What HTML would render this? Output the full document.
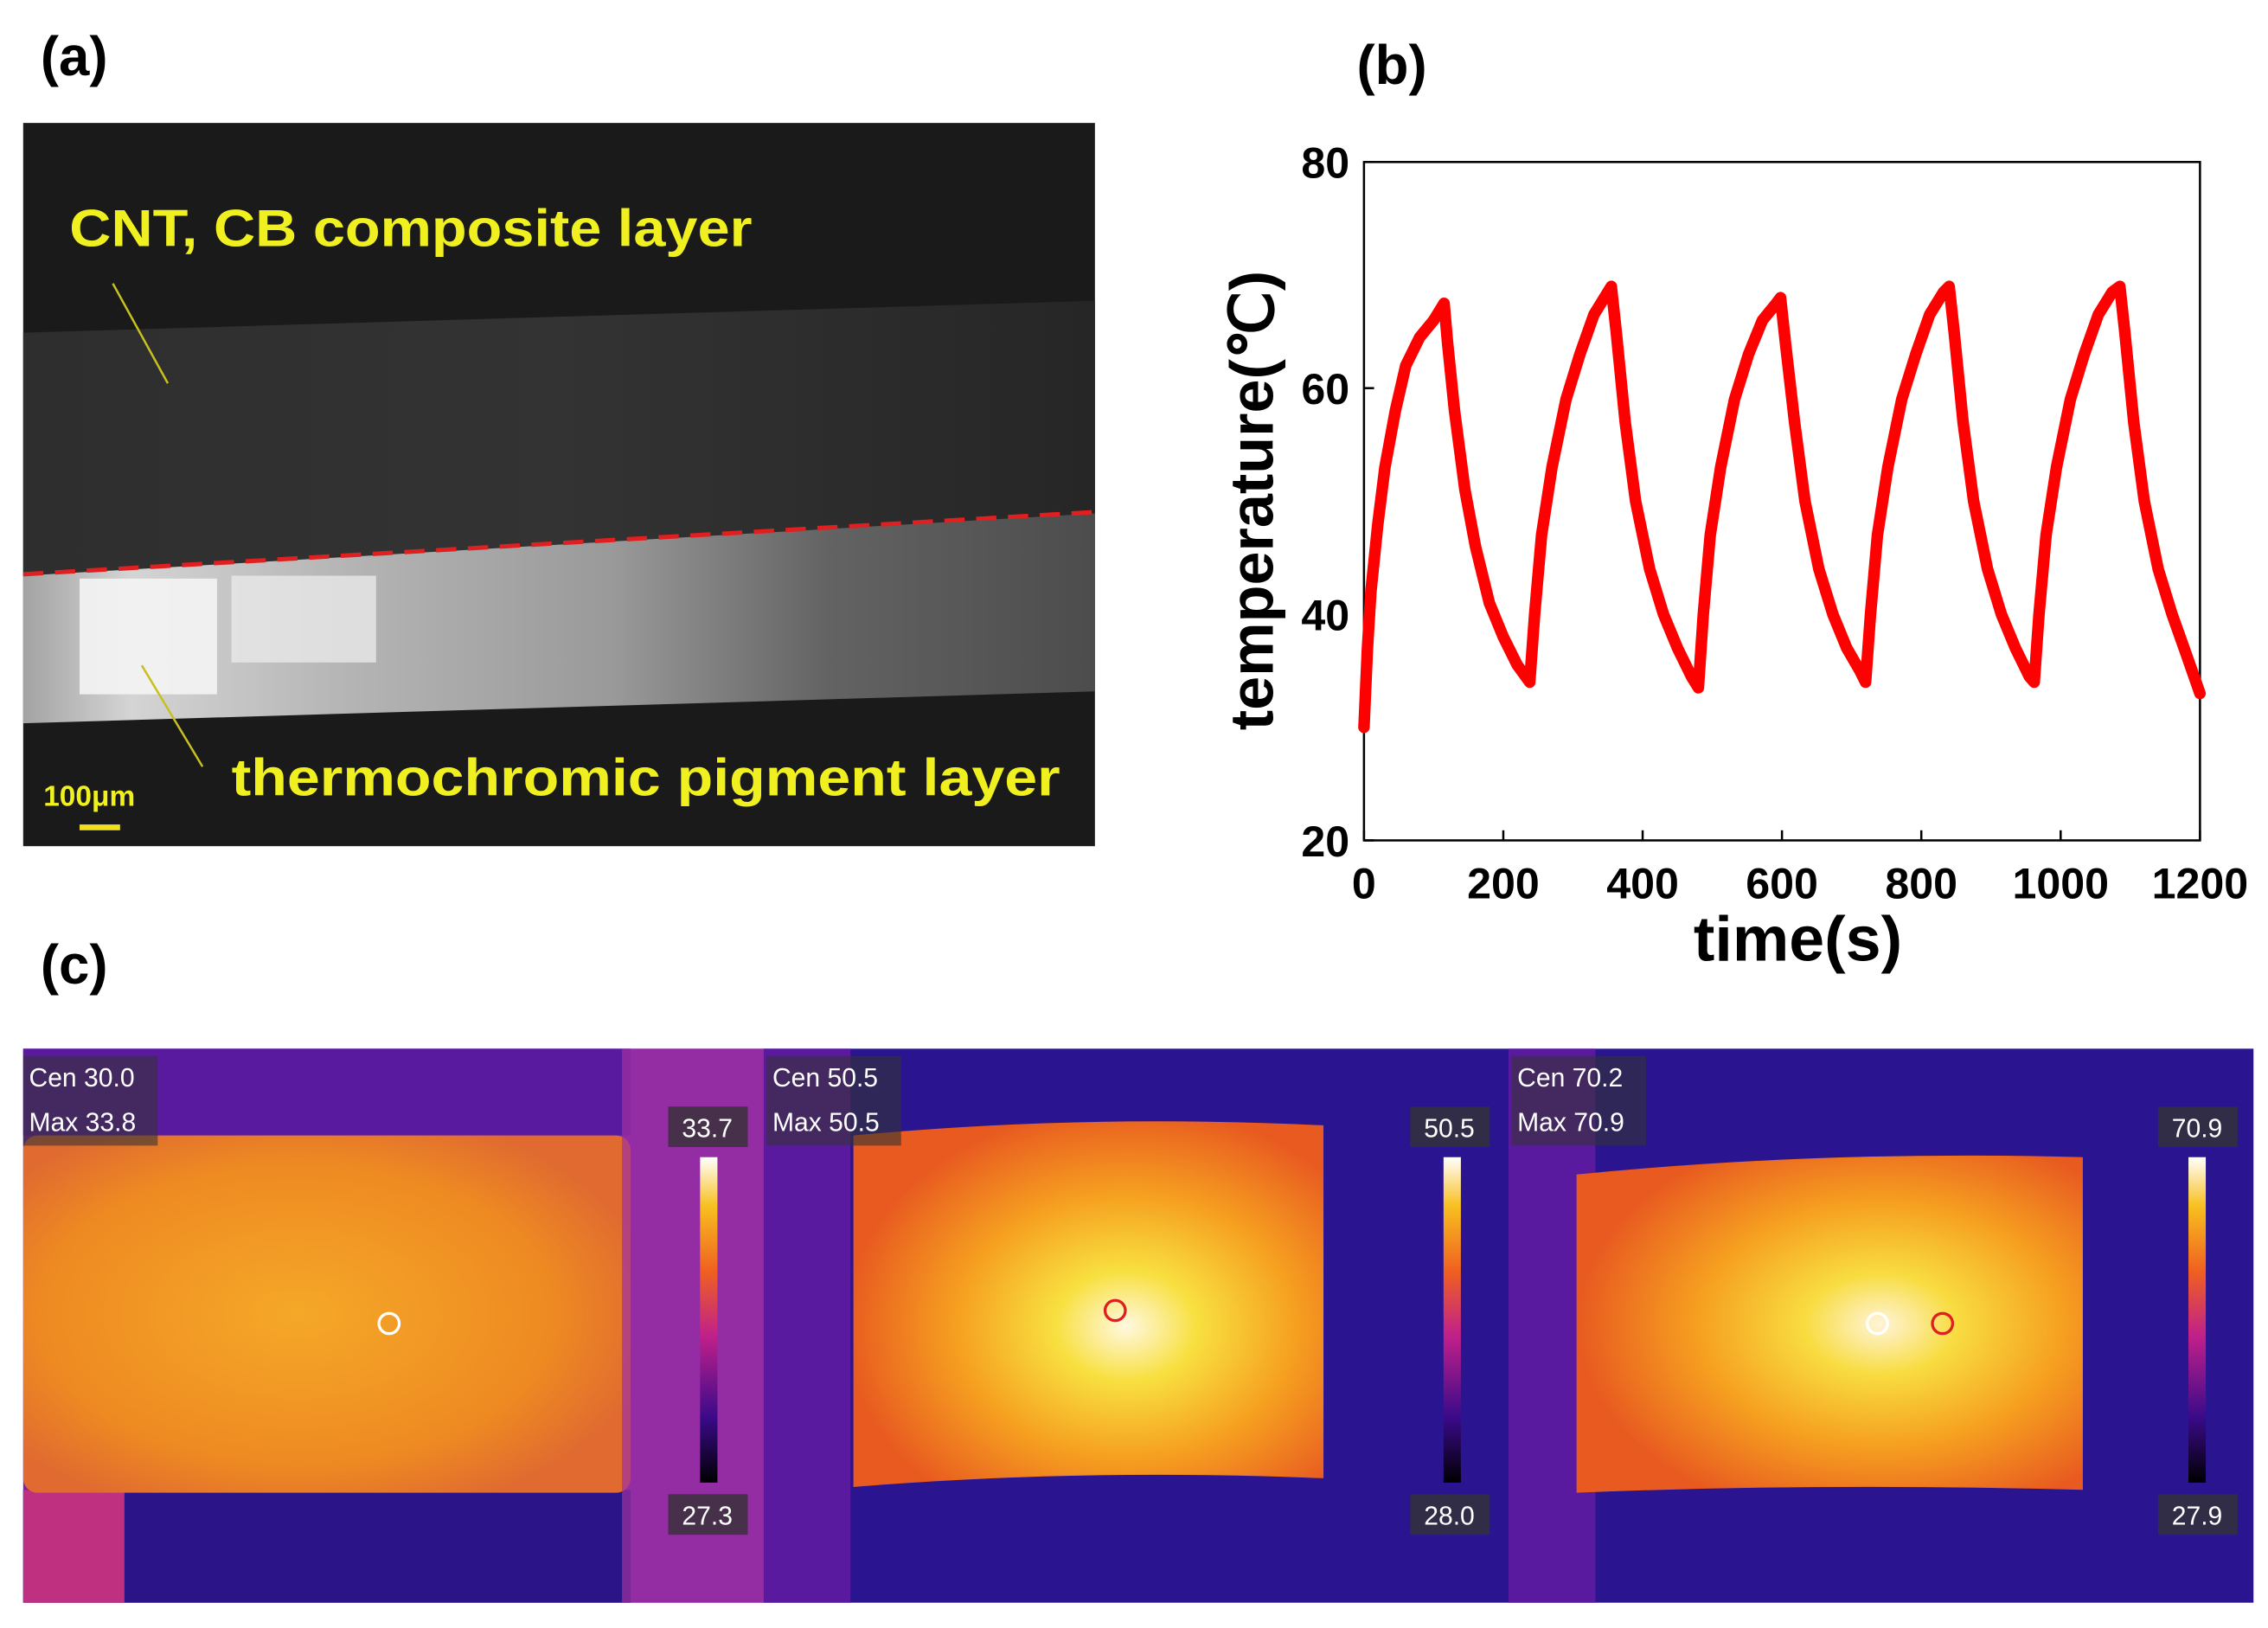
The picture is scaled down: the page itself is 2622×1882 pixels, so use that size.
<!DOCTYPE html>
<html><head><meta charset="utf-8"><style>
html,body{margin:0;padding:0;background:#fff}
svg{display:block}
text{font-family:"Liberation Sans",sans-serif}
</style></head><body>
<svg id="fig" width="2622" height="1882" viewBox="0 0 1568 1125.5" xmlns="http://www.w3.org/2000/svg">
<defs>
<linearGradient id="semBand" x1="0" y1="0" x2="1" y2="0">
<stop offset="0" stop-color="#2e2e2e"/><stop offset="0.5" stop-color="#333"/><stop offset="1" stop-color="#262626"/></linearGradient>
<linearGradient id="bright" x1="0" y1="0" x2="1" y2="0">
<stop offset="0" stop-color="#bbb"/><stop offset="0.1" stop-color="#f5f5f5"/><stop offset="0.3" stop-color="#d0d0d0"/><stop offset="0.55" stop-color="#b0b0b0"/><stop offset="0.75" stop-color="#707070"/><stop offset="1" stop-color="#555"/></linearGradient>
<linearGradient id="cbar" x1="0" y1="1" x2="0" y2="0">
<stop offset="0" stop-color="#000"/><stop offset="0.2" stop-color="#3a0a8a"/><stop offset="0.45" stop-color="#c0208a"/><stop offset="0.65" stop-color="#f06020"/><stop offset="0.85" stop-color="#f8c020"/><stop offset="1" stop-color="#fff"/></linearGradient>
<radialGradient id="hot1" cx="0.45" cy="0.5" r="0.6">
<stop offset="0" stop-color="#f5a828"/><stop offset="0.7" stop-color="#ee8a22"/><stop offset="1" stop-color="#e06a30"/></radialGradient>
<radialGradient id="hot2" cx="0.58" cy="0.56" r="0.6">
<stop offset="0" stop-color="#fff8e0"/><stop offset="0.25" stop-color="#f8e040"/><stop offset="0.6" stop-color="#f6a020"/><stop offset="1" stop-color="#e85a20"/></radialGradient>
<radialGradient id="hot3" cx="0.6" cy="0.5" r="0.6">
<stop offset="0" stop-color="#fff4d8"/><stop offset="0.25" stop-color="#f8dc40"/><stop offset="0.6" stop-color="#f6a020"/><stop offset="1" stop-color="#e85a20"/></radialGradient>
</defs>

<!-- (a) -->
<text x="28" y="52" font-size="38" font-weight="bold">(a)</text>
<g>
<rect x="16" y="85" width="741" height="500" fill="#1a1a1a"/>
<polygon points="16,230 757,208 757,355 16,398" fill="url(#semBand)"/>
<polygon points="16,398 757,355 757,478 16,500" fill="url(#bright)" opacity="0.85"/>
<rect x="55" y="400" width="95" height="80" fill="#f4f4f4" opacity="0.9"/>
<rect x="160" y="398" width="100" height="60" fill="#e8e8e8" opacity="0.8"/>
<line x1="16" y1="397" x2="757" y2="354" stroke="#e02020" stroke-width="3" stroke-dasharray="14,8"/>
<line x1="78" y1="196" x2="116" y2="265" stroke="#c8c020" stroke-width="1.5"/>
<line x1="98" y1="460" x2="140" y2="530" stroke="#c8c020" stroke-width="1.5"/>
<rect x="55" y="570" width="28" height="4" fill="#f0e020"/>
</g>
<text x="48" y="170" font-size="36" font-weight="bold" fill="#f0f020" textLength="472" lengthAdjust="spacingAndGlyphs">CNT, CB composite layer</text>
<text x="160" y="550" font-size="36" font-weight="bold" fill="#f0f020" textLength="573" lengthAdjust="spacingAndGlyphs">thermochromic pigment layer</text>
<text x="30" y="557" font-size="20" font-weight="bold" fill="#f0f020">100μm</text>

<!-- (b) -->
<text x="938" y="58" font-size="38" font-weight="bold">(b)</text>
<g id="chart"></g>

<!-- (c) -->
<text x="28" y="680" font-size="38" font-weight="bold">(c)</text>
<g>
<rect x="16" y="725" width="512" height="383" fill="#7a22b0"/>
<rect x="16" y="725" width="420" height="60" fill="#5a1aa0"/>
<rect x="16" y="1030" width="420" height="78" fill="#2a1488"/>
<rect x="16" y="1030" width="70" height="78" fill="#c03080"/>
<rect x="16" y="785" width="420" height="247" rx="10" fill="url(#hot1)"/>
<rect x="430" y="725" width="98" height="383" fill="#a030a0" opacity="0.7"/>
<rect x="484" y="800" width="12" height="225" fill="url(#cbar)"/>
<rect x="462" y="765" width="55" height="28" fill="#333" opacity="0.8"/><text x="489" y="786" font-size="18" fill="#fff" text-anchor="middle">33.7</text>
<rect x="462" y="1033" width="55" height="28" fill="#333" opacity="0.8"/><text x="489" y="1054" font-size="18" fill="#fff" text-anchor="middle">27.3</text>
<rect x="16" y="730" width="93" height="62" fill="#333" opacity="0.6"/>
<text x="20" y="751" font-size="18" fill="#fff">Cen  30.0</text><text x="20" y="782" font-size="18" fill="#fff">Max  33.8</text>
<circle cx="269" cy="915" r="7" fill="none" stroke="#fff" stroke-width="2"/>
</g>
<g>
<rect x="528" y="725" width="515" height="383" fill="#2a1490"/>
<rect x="528" y="725" width="60" height="383" fill="#5a1aa0"/>
<path d="M590,785 Q750,770 915,778 L915,1022 Q750,1015 590,1028 Z" fill="url(#hot2)"/>
<rect x="998" y="800" width="12" height="225" fill="url(#cbar)"/>
<rect x="975" y="765" width="55" height="28" fill="#333" opacity="0.8"/><text x="1002" y="786" font-size="18" fill="#fff" text-anchor="middle">50.5</text>
<rect x="975" y="1033" width="55" height="28" fill="#333" opacity="0.8"/><text x="1002" y="1054" font-size="18" fill="#fff" text-anchor="middle">28.0</text>
<rect x="530" y="730" width="93" height="62" fill="#333" opacity="0.6"/>
<text x="534" y="751" font-size="18" fill="#fff">Cen  50.5</text><text x="534" y="782" font-size="18" fill="#fff">Max  50.5</text>
<circle cx="771" cy="906" r="7" fill="none" stroke="#e02020" stroke-width="2"/>
</g>
<g>
<rect x="1043" y="725" width="515" height="383" fill="#2a1490"/>
<rect x="1043" y="725" width="60" height="383" fill="#5a1aa0"/>
<path d="M1090,812 Q1260,795 1440,800 L1440,1030 Q1260,1025 1090,1032 Z" fill="url(#hot3)"/>
<rect x="1513" y="800" width="12" height="225" fill="url(#cbar)"/>
<rect x="1492" y="765" width="55" height="28" fill="#333" opacity="0.8"/><text x="1519" y="786" font-size="18" fill="#fff" text-anchor="middle">70.9</text>
<rect x="1492" y="1033" width="55" height="28" fill="#333" opacity="0.8"/><text x="1519" y="1054" font-size="18" fill="#fff" text-anchor="middle">27.9</text>
<rect x="1045" y="730" width="93" height="62" fill="#333" opacity="0.6"/>
<text x="1049" y="751" font-size="18" fill="#fff">Cen  70.2</text><text x="1049" y="782" font-size="18" fill="#fff">Max  70.9</text>
<circle cx="1298" cy="915" r="7" fill="none" stroke="#fff" stroke-width="2"/>
<circle cx="1343" cy="915" r="7" fill="none" stroke="#e02020" stroke-width="2"/>
</g>
</svg>
<script>
const times = [0,5,10,20,30,45,60,80,100,115,120,130,145,160,180,200,220,238,
245,255,270,290,310,330,350,355,362,375,390,410,430,450,470,480,
487,497,512,532,552,572,592,598,605,618,633,653,673,693,712,720,
727,737,752,772,792,812,832,840,847,860,875,895,915,935,955,962,
969,979,994,1014,1034,1054,1074,1085,1092,1105,1120,1140,1160,1180,1200];
const temps = [30,37,42,48,53,58,62,64.5,66,67.5,64,58,51,46,41,38,35.5,34,
40,47,53,59,63,66.5,68.5,69,65,57,50,44,40,37,34.5,33.5,
40,47,53,59,63,66,67.5,68,64,57,50,44,40,37,35,34,
40,47,53,59,63,66.5,68.5,69,65,57,50,44,40,37,34.5,34,
40,47,53,59,63,66.5,68.5,69,65,57,50,44,40,36.5,33];
const xTicks = [0,200,400,600,800,1000,1200];
const yTicks = [20,40,60,80];
const NS="http://www.w3.org/2000/svg";
const X0=943,X1=1521,Y0=581,Y1=112;
function xs(t){return X0+(t-0)/(1200-0)*(X1-X0);}
function ys(v){return Y0-(v-20)/(80-20)*(Y0-Y1);}
const g=document.getElementById('chart');
function mk(tag,attrs){const e=document.createElementNS(NS,tag);for(const k in attrs)e.setAttribute(k,attrs[k]);g.appendChild(e);return e;}
const frame=mk('rect',{x:X0,y:Y1,width:X1-X0,height:Y0-Y1,fill:'none',stroke:'#000','stroke-width':1.5});


xTicks.forEach(t=>{
 const l=mk('line',{x1:xs(t),y1:Y0,x2:xs(t),y2:Y0-7,stroke:'#000','stroke-width':1.5});
 
 
 const tx=mk('text',{x:xs(t),y:Y0+40,'font-size':30,'font-weight':'bold','text-anchor':'middle'});
 tx.textContent=t;
 
 
});
yTicks.forEach(v=>{
 const l=mk('line',{x1:X0,y1:ys(v),x2:X0+7,y2:ys(v),stroke:'#000','stroke-width':1.5});
 
 
 const tx=mk('text',{x:X0-10,y:ys(v)+11,'font-size':30,'font-weight':'bold','text-anchor':'end'});
 tx.textContent=v;
 
 
});
const xl=mk('text',{x:1243,y:664,'font-size':44,'font-weight':'bold','text-anchor':'middle'});
xl.textContent='time(s)';


const yl=mk('text',{x:0,y:0,'font-size':42,'font-weight':'bold','text-anchor':'middle',transform:'translate(880,346) rotate(-90)'});
yl.textContent='temperature(℃)';


const pts=times.map((t,i)=>xs(t).toFixed(1)+','+ys(temps[i]).toFixed(1)).join(' ');
const line=mk('polyline',{points:pts,fill:'none',stroke:'#ff0000','stroke-width':8,'stroke-linejoin':'round','stroke-linecap':'round'});


</script>
</body></html>
